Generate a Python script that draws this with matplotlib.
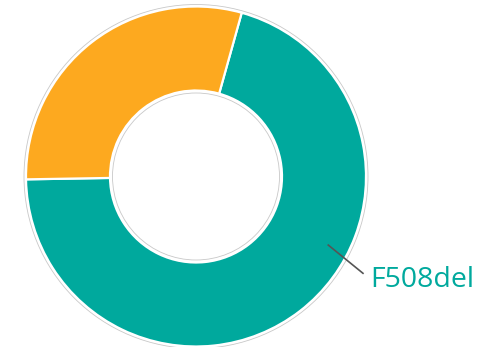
import numpy as np
import matplotlib.pyplot as plt
from matplotlib.patches import Circle

# allele share (percent)
labels = ['F508del', 'Other']
shares = [70.4, 29.6]
colors = ['#00A99D', '#FDA91F']

W, H = 499, 347
cx, cy = 196, 170.5
r_out, r_in = 170, 86

fig = plt.figure(figsize=(W / 100, H / 100), dpi=100)
ax = fig.add_axes([0, 0, 1, 1])
ax.set_xlim(0, W)
ax.set_ylim(0, H)
ax.set_aspect('equal')
ax.axis('off')

wedges, _ = ax.pie(shares, colors=colors, startangle=74.4, counterclock=False,
                   center=(cx, cy), radius=r_out, frame=True,
                   wedgeprops=dict(width=r_out - r_in, edgecolor='white', linewidth=1.6))
ax.set_xlim(0, W)
ax.set_ylim(0, H)
ax.axis('off')

# thin grey outlines around the ring
ax.add_patch(Circle((cx, cy), r_out + 2, fill=False, edgecolor='#c8c8c8', linewidth=0.6))
ax.add_patch(Circle((cx, cy), r_in - 2.5, fill=False, edgecolor='#c8c8c8', linewidth=0.6))

# leader line + label for the big slice
ang = np.deg2rad(-27.4)
p0 = (cx + 149 * np.cos(ang), cy + 149 * np.sin(ang))
p1 = (cx + 193 * np.cos(ang - np.deg2rad(2.7)), cy + 193 * np.sin(ang - np.deg2rad(2.7)))
ax.plot([p0[0], p1[0]], [p0[1], p1[1]], color='#555555', linewidth=1.2)
ax.text(370, 67, labels[0], color=colors[0], fontsize=20.5, family='Open Sans',
        ha='left', va='center')

fig.savefig('out.png', dpi=100)
